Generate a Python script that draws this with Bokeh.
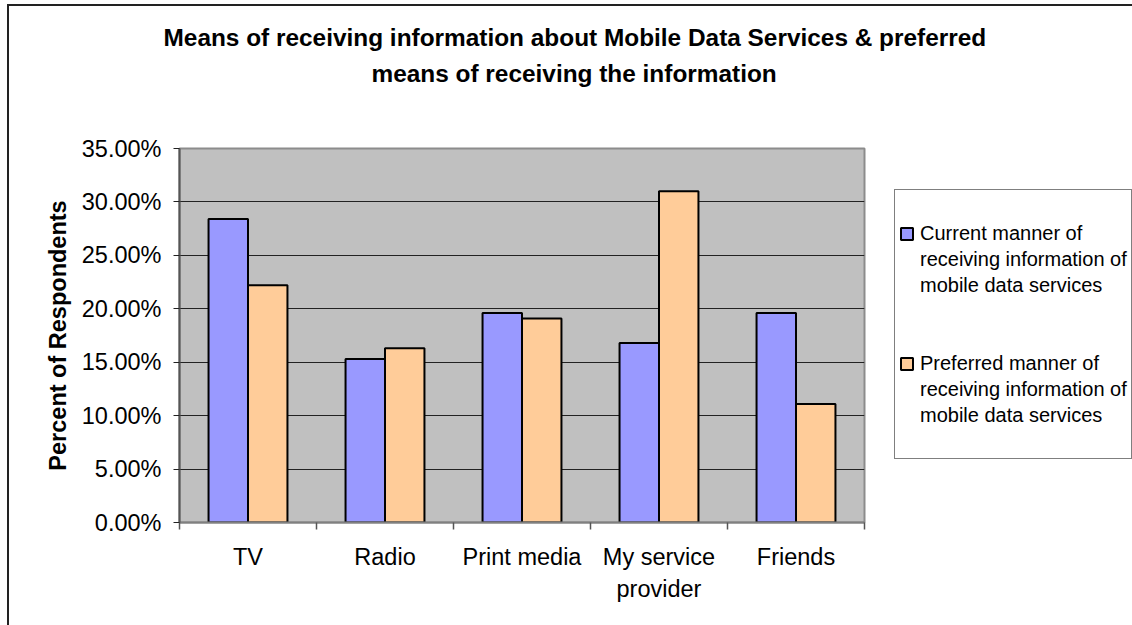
from bokeh.plotting import figure
from bokeh.models import (ColumnDataSource, FixedTicker, NumeralTickFormatter, Legend,
                          LegendItem, Range1d, Title)
from bokeh.transform import dodge
from bokeh.embed import file_html
from bokeh.resources import INLINE

# ---- data ----
categories = ["TV", "Radio", "Print media", "My service provider", "Friends"]
tick_labels = ["TV", "Radio", "Print media", "My service\nprovider", "Friends"]
current = [0.284, 0.153, 0.196, 0.168, 0.196]
preferred = [0.222, 0.163, 0.191, 0.310, 0.111]
series_lines = [
    ["Current manner of", "receiving information of", "mobile data services"],
    ["Preferred manner of", "receiving information of", "mobile data services"],
]
y_ticks = [0.0, 0.05, 0.10, 0.15, 0.20, 0.25, 0.30, 0.35]
title_lines = [
    "Means of receiving information about Mobile Data Services & preferred",
    "means of receiving the information",
]
y_label = "Percent of Respondents"

FONT = "Liberation Sans"
W, H = 1132, 625
OX, OY = 9, 6          # inner origin after chart-area border
BLUE = "#9999FF"
ORANGE = "#FFCC99"

n = len(categories)
src = ColumnDataSource(dict(x=list(range(n)), cat=categories, current=current, preferred=preferred))

p = figure(frame_width=864 - 179, frame_height=522 - 148,
           output_backend="svg", toolbar_location=None,
           x_range=Range1d(-0.5, n - 0.5), y_range=Range1d(y_ticks[0], y_ticks[-1]),
           min_border_left=179 - OX, min_border_right=W - 864,
           min_border_top=148 - OY, min_border_bottom=H - 522,
           background_fill_color="#C0C0C0", border_fill_color="white",
           outline_line_color="#8C8C8C", outline_line_width=2,
           margin=(4, 0, 0, 7),
           styles={"border-left": "2px solid #222222", "border-top": "2px solid #222222"})
p.title.visible = False

bw = 0.288
r1 = p.vbar(x=dodge("x", -bw / 2, range=p.x_range), top="current", width=bw, source=src,
            fill_color=BLUE, line_color="black", line_width=2)
r2 = p.vbar(x=dodge("x", bw / 2, range=p.x_range), top="preferred", width=bw, source=src,
            fill_color=ORANGE, line_color="black", line_width=2)
# invisible renderer used only for the continuation lines of the legend entries
blank = p.vbar(x=[], top=[], width=0.1, fill_alpha=0, line_alpha=0)

# y axis
p.yaxis.ticker = FixedTicker(ticks=y_ticks)
p.yaxis.formatter = NumeralTickFormatter(format="0.00%")
p.yaxis.major_label_text_font = FONT
p.yaxis.major_label_text_font_size = "23.5px"
p.yaxis.major_label_text_color = "black"
p.yaxis.major_tick_in = 0
p.yaxis.major_tick_out = 6
p.yaxis.minor_tick_line_color = None
p.yaxis.major_tick_line_color = "#222222"
p.yaxis.axis_line_color = "#555555"
p.yaxis.axis_line_width = 2
p.yaxis.major_label_standoff = 12
p.yaxis.axis_label = y_label
p.yaxis.axis_label_text_font = FONT
p.yaxis.axis_label_text_font_style = "bold"
p.yaxis.axis_label_text_font_size = "23.5px"
p.yaxis.axis_label_text_color = "black"
p.yaxis.axis_label_standoff = 8

# x axis
p.xaxis.ticker = FixedTicker(ticks=list(range(n)), minor_ticks=[i - 0.5 for i in range(n + 1)])
p.xaxis.major_label_overrides = {i: tick_labels[i] for i in range(n)}
p.xaxis.major_label_text_font = FONT
p.xaxis.major_label_text_font_size = "23.5px"
p.xaxis.major_label_text_color = "black"
p.xaxis.major_label_text_line_height = 1.25
p.xaxis.major_tick_line_color = None
p.xaxis.major_tick_out = 6
p.xaxis.minor_tick_line_color = "#555555"
p.xaxis.minor_tick_in = 0
p.xaxis.minor_tick_out = 7
p.xaxis.minor_tick_line_width = 1.5
p.xaxis.axis_line_color = "#808080"
p.xaxis.axis_line_width = 2
p.xaxis.major_label_standoff = 14

# grid
p.xgrid.visible = False
p.ygrid.ticker = FixedTicker(ticks=y_ticks)
p.ygrid.grid_line_color = "#222222"
p.ygrid.grid_line_width = 1

# title: spacer + two lines stacked above the frame
p.add_layout(Title(text=" ", text_font_size="1px", standoff=54, text_color="white"), "above")
p.add_layout(Title(text=title_lines[1], align="left", offset=192, vertical_align="middle",
                   standoff=7, text_font=FONT, text_font_style="bold",
                   text_font_size="24.4px", text_color="black"), "above")
p.add_layout(Title(text=title_lines[0], align="left", offset=-16, vertical_align="middle",
                   standoff=7, text_font=FONT, text_font_style="bold",
                   text_font_size="24.4px", text_color="black"), "above")

# legend (outside, right panel); one entry per text line
items = [LegendItem(label=" ", renderers=[blank])]
for r, lines in zip([r1, r2], series_lines):
    items.append(LegendItem(label=lines[0], renderers=[r]))
    for ln in lines[1:]:
        items.append(LegendItem(label=ln, renderers=[blank]))
    items.append(LegendItem(label=" ", renderers=[blank]))
items.insert(5, LegendItem(label=" ", renderers=[blank]))

legend = Legend(items=items, location=(30, 63), padding=4, spacing=0, label_height=26,
                glyph_width=15, glyph_height=15, label_standoff=6,
                label_text_font=FONT, label_text_font_size="20px",
                label_text_color="black",
                border_line_color="black", border_line_width=1.5,
                background_fill_color="white", background_fill_alpha=1.0, margin=0)
p.add_layout(legend, "right")

open("out.html", "w").write(file_html(p, INLINE))
